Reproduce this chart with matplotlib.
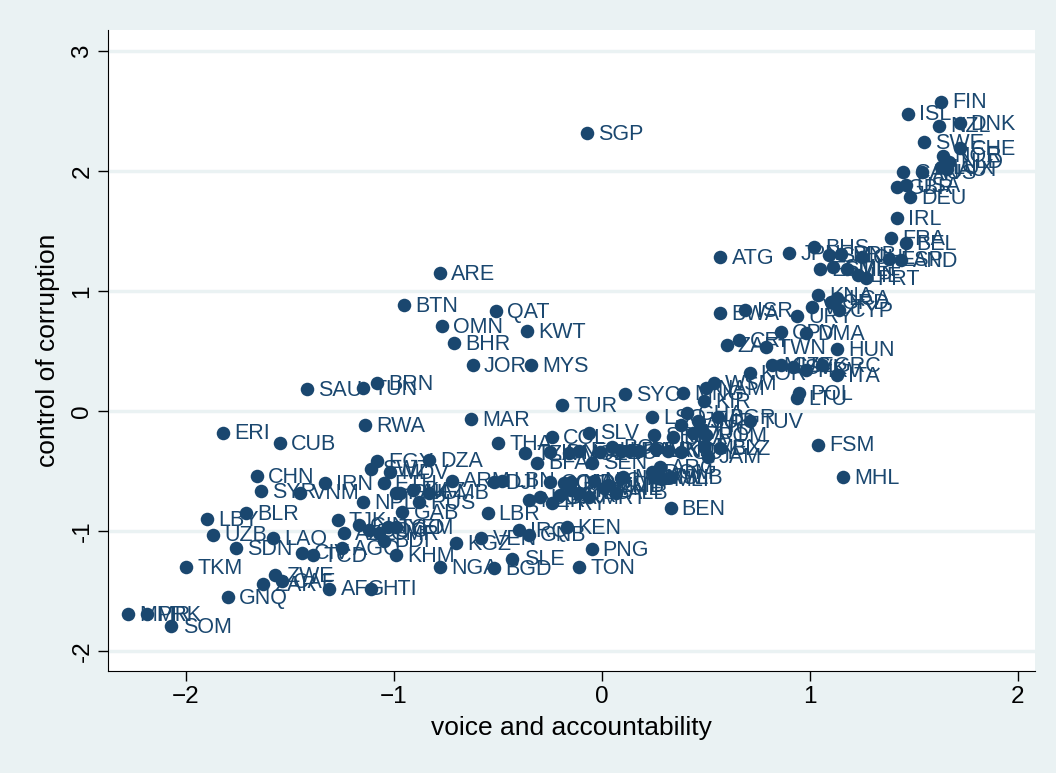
import matplotlib
matplotlib.use('Agg')
import matplotlib.pyplot as plt

plt.rcParams['font.family'] = ['Liberation Sans', 'DejaVu Sans']

# country codes, voice and accountability, control of corruption
codes = ['FIN', 'ISL', 'NZL', 'DNK', 'SWE', 'CHE', 'NOR', 'NLD', 'LUX', 'AUT',
         'AUS', 'CAN', 'GBR', 'USA', 'DEU', 'IRL', 'FRA', 'BEL',
         'SVN', 'BRB', 'CHL', 'ESP', 'AND', 'EST', 'SMR', 'MLT', 'LIE', 'PRT',
         'KNA', 'GRD', 'VCT', 'LCA', 'CYP', 'URY', 'BHS', 'JPN', 'ATG',
         'BWA', 'ISR', 'CPV', 'DMA', 'ZAF', 'CRI', 'TWN', 'HUN',
         'KOR', 'MUS', 'CZE', 'SVK', 'HRV', 'GRC', 'ITA',
         'MNG', 'NAM', 'WSM', 'KIR', 'POL', 'LTU', 'SYC', 'TUV', 'LSO',
         'GHA', 'SUR', 'BGR', 'PAN', 'BRA', 'VUT', 'TTO', 'ROM', 'MEX', 'BLZ',
         'JAM', 'GUY', 'SRB', 'PER', 'MKD', 'IND', 'ARG', 'DOM', 'MDA', 'MWI',
         'MLI', 'SLB', 'BOL', 'LKA', 'PHL', 'FSM', 'MHL', 'BEN',
         'SGP', 'ARE', 'BTN', 'QAT', 'OMN', 'KWT', 'BHR', 'JOR', 'MYS',
         'SAU', 'TUN', 'BRN', 'RWA', 'MAR', 'TUR',
         'THA', 'COL', 'SLV', 'TZA', 'IDN', 'MOZ', 'BFA', 'SEN', 'ECU', 'GEO',
         'NIC', 'HND', 'COM', 'MDG', 'ZMB', 'NER', 'UGA', 'PRY', 'BIH', 'TLS',
         'MRT', 'ALB', 'UKR', 'GTM', 'MNE',
         'EGY', 'DZA', 'SWZ', 'MDV', 'ETH', 'PAK', 'KAZ', 'ARM', 'LBN', 'DJI',
         'LBR', 'NPL', 'RUS', 'GMB', 'GUI',
         'TJK', 'AZE', 'GIN', 'COG', 'CMR', 'TGO', 'YEM', 'GAB', 'BDI', 'AGO',
         'KHM', 'KGZ', 'VEN', 'IRQ', 'GNB', 'KEN', 'NGA', 'BGD', 'SLE', 'TON',
         'PNG', 'AFG', 'HTI',
         'ERI', 'CUB', 'CHN', 'SYR', 'VNM', 'IRN', 'LBY', 'BLR', 'UZB', 'LAO',
         'SDN', 'CIV', 'TCD', 'TKM', 'ZWE', 'ZAR', 'CAF', 'GNQ', 'MMR', 'PRK',
         'SOM']

voice = [1.63, 1.47, 1.62, 1.72, 1.55, 1.72, 1.64, 1.67, 1.63, 1.66,
         1.54, 1.45, 1.42, 1.46, 1.48, 1.42, 1.39, 1.46,
         1.09, 1.15, 1.25, 1.38, 1.44, 1.05, 1.11, 1.18, 1.23, 1.27,
         1.04, 1.10, 1.01, 1.13, 1.14, 0.94, 1.02, 0.90, 0.57,
         0.57, 0.69, 0.86, 0.98, 0.60, 0.66, 0.79, 1.13,
         0.71, 0.82, 0.86, 0.92, 0.98, 1.06, 1.13,
         0.39, 0.50, 0.54, 0.49, 0.95, 0.94, 0.11, 0.71, 0.24,
         0.41, 0.46, 0.56, 0.38, 0.34, 0.44, 0.47, 0.50, 0.49, 0.57,
         0.51, 0.38, 0.25, 0.18, 0.26, 0.32, 0.28, 0.24, 0.10, 0.25,
         0.29, 0.33, 0.05, 0.09, 0.13, 1.04, 1.16, 0.33,
         -0.07, -0.78, -0.95, -0.51, -0.77, -0.36, -0.71, -0.62, -0.34,
         -1.42, -1.15, -1.08, -1.14, -0.63, -0.19,
         -0.50, -0.24, -0.06, -0.37, -0.25, -0.16, -0.31, -0.05, -0.11, -0.01,
         -0.04, 0.09, -0.25, -0.15, 0.03, -0.35, -0.30, -0.24, -0.15, -0.11,
         -0.06, 0.07, -0.20, -0.18, 0.01,
         -1.08, -0.83, -1.11, -1.02, -1.05, -0.99, -0.91, -0.72, -0.48, -0.52,
         -0.55, -1.15, -0.88, -0.83, -0.97,
         -1.27, -1.24, -1.17, -1.12, -1.07, -1.03, -0.99, -0.96, -1.05, -1.25,
         -0.99, -0.70, -0.58, -0.40, -0.35, -0.17, -0.78, -0.52, -0.43, -0.11,
         -0.05, -1.31, -1.11,
         -1.82, -1.55, -1.66, -1.64, -1.45, -1.33, -1.90, -1.71, -1.87, -1.58,
         -1.76, -1.44, -1.39, -2.00, -1.57, -1.63, -1.54, -1.80, -2.28, -2.19,
         -2.07]

corruption = [2.58, 2.48, 2.38, 2.40, 2.24, 2.19, 2.13, 2.08, 2.03, 2.02,
              1.99, 1.99, 1.87, 1.88, 1.78, 1.61, 1.44, 1.40,
              1.30, 1.31, 1.28, 1.27, 1.26, 1.18, 1.20, 1.18, 1.13, 1.11,
              0.97, 0.91, 0.87, 0.94, 0.84, 0.79, 1.37, 1.32, 1.28,
              0.82, 0.84, 0.66, 0.65, 0.55, 0.59, 0.53, 0.52,
              0.32, 0.38, 0.38, 0.37, 0.34, 0.38, 0.30,
              0.15, 0.19, 0.23, 0.08, 0.15, 0.11, 0.14, -0.08, -0.05,
              -0.02, -0.08, -0.05, -0.12, -0.22, -0.18, -0.14, -0.20, -0.30, -0.31,
              -0.38, -0.34, -0.20, -0.33, -0.32, -0.33, -0.47, -0.51, -0.55, -0.55,
              -0.57, -0.55, -0.30, -0.33, -0.33, -0.28, -0.55, -0.81,
              2.32, 1.15, 0.88, 0.83, 0.71, 0.67, 0.57, 0.38, 0.38,
              0.18, 0.19, 0.23, -0.12, -0.07, 0.05,
              -0.27, -0.22, -0.18, -0.35, -0.34, -0.35, -0.43, -0.43, -0.33, -0.34,
              -0.58, -0.56, -0.59, -0.59, -0.62, -0.74, -0.72, -0.77, -0.66, -0.68,
              -0.72, -0.68, -0.70, -0.60, -0.64,
              -0.42, -0.41, -0.48, -0.51, -0.60, -0.68, -0.66, -0.58, -0.58, -0.59,
              -0.85, -0.76, -0.76, -0.68, -0.68,
              -0.91, -1.02, -0.95, -0.99, -1.02, -0.97, -0.97, -0.84, -1.08, -1.14,
              -1.20, -1.10, -1.06, -0.99, -1.03, -0.97, -1.30, -1.31, -1.23, -1.30,
              -1.15, -1.48, -1.48,
              -0.18, -0.27, -0.54, -0.67, -0.68, -0.60, -0.90, -0.85, -1.03, -1.06,
              -1.14, -1.18, -1.20, -1.30, -1.37, -1.44, -1.42, -1.55, -1.69, -1.69,
              -1.79]

navy = '#1a476f'
bg = '#eaf2f3'

fig = plt.figure(figsize=(10.56, 7.73), dpi=100, facecolor=bg)
ax = fig.add_axes([0.1023, 0.132, 0.8777, 0.829])
ax.set_facecolor('white')

ax.scatter(voice, corruption, s=95, color=navy, zorder=3, linewidths=0)
for c, x, y in zip(codes, voice, corruption):
    ax.annotate(c, (x, y), xytext=(8, -1), textcoords='offset points',
                va='center', ha='left', fontsize=15.5, color=navy, zorder=4)

ax.set_xlim(-2.375, 2.082)
ax.set_ylim(-2.167, 3.175)
ax.set_xticks([-2, -1, 0, 1, 2])
ax.set_yticks([-2, -1, 0, 1, 2, 3])
ax.set_yticklabels(['-2', '-1', '0', '1', '2', '3'], rotation=90, va='center')
ax.grid(axis='y', color=bg, linewidth=2.5, zorder=0)
ax.set_axisbelow(True)
for s in ['top', 'right']:
    ax.spines[s].set_visible(False)
ax.spines['left'].set_color('black')
ax.spines['bottom'].set_color('black')
ax.tick_params(length=7, width=1, labelsize=17.5)
ax.set_xlabel('voice and accountability', fontsize=19, labelpad=6)
ax.set_ylabel('control of corruption', fontsize=19, labelpad=8)

plt.savefig('out.png', dpi=100, facecolor=bg)
